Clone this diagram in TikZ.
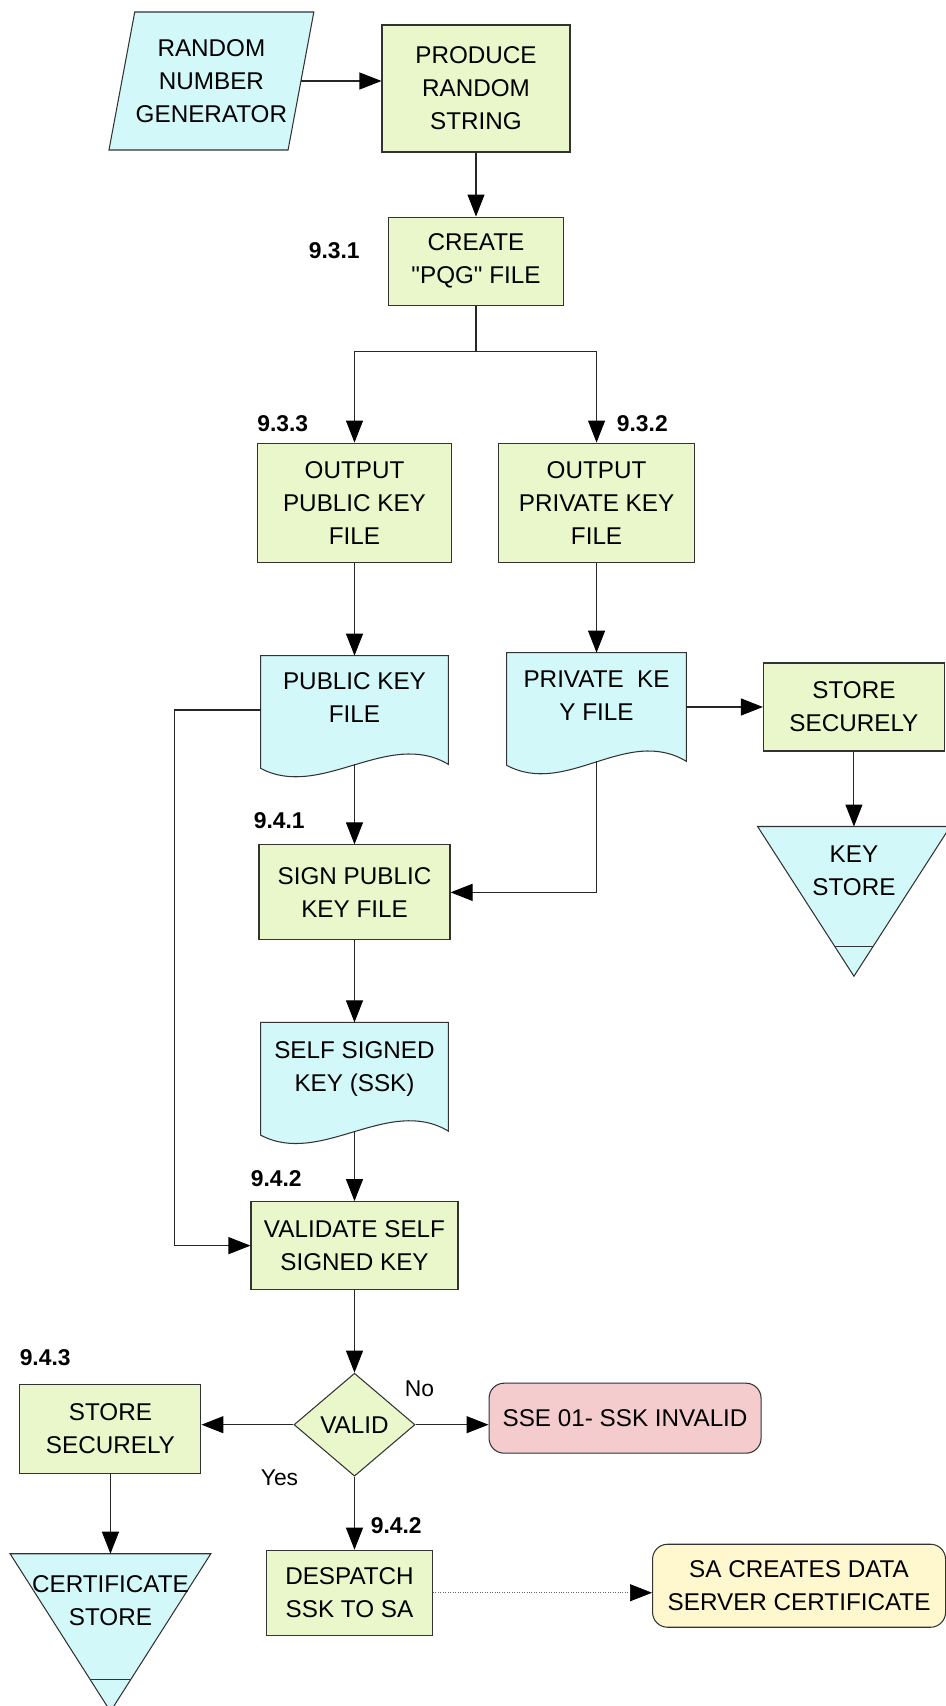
\documentclass[tikz,border=0pt]{standalone}
\usepackage{fontspec}
\setmainfont{Liberation Sans}[Ligatures=TeXOff]
\usepackage{tikz}
\usetikzlibrary{positioning,shapes,arrows.meta,calc,backgrounds}

\definecolor{PROC_GREEN}{HTML}{EAF7CB}
\definecolor{DATA_CYAN}{HTML}{D3F8F9}
\definecolor{ERR_PINK}{HTML}{F4CCCE}
\definecolor{END_YELLOW}{HTML}{FFF8CE}
\definecolor{EDGE_GREY}{HTML}{333333}

\tikzstyle{box} = [rectangle, draw=EDGE_GREY, line width=0.6pt, align=center, inner sep=0pt, font=\fontsize{13.8}{18.8}\selectfont]
\tikzstyle{proc_box} = [box, fill=PROC_GREEN]
\tikzstyle{term_box} = [box, rounded corners=0.3cm]
\tikzstyle{data_box} = [rectangle, inner sep=0pt, minimum width=3.74cm, minimum height=2.16cm]
\tikzstyle{store_tri} = [rectangle, inner sep=0pt]
\tikzstyle{rng_par} = [box, trapezium, trapezium left angle=73, trapezium right angle=107, trapezium stretches, fill=DATA_CYAN, minimum width=4.1cm, minimum height=2.76cm]
\tikzstyle{valid_dia} = [box, diamond, fill=PROC_GREEN, minimum width=2.42cm, minimum height=2.06cm]
\tikzstyle{link} = [draw=black!85, line width=0.6pt]
\tikzstyle{flow} = [link, -{Triangle[length=0.44cm,width=0.34cm,color=black]}]
\tikzstyle{num_tag} = [inner sep=0pt, font=\bfseries\fontsize{13}{15}\selectfont]
\tikzstyle{yes_no} = [inner sep=0pt, font=\fontsize{13}{15}\selectfont]

% outlines for the file and store symbols (drawn behind the text)
\newcommand{\docoutline}[1]{%
  \filldraw[fill=DATA_CYAN, draw=EDGE_GREY, line width=0.6pt]
    (#1.north west) -- (#1.north east) -- (#1.south east)
    .. controls +(-1.2,0.72) and +(1.2,-0.64) .. ([yshift=-0.08cm]#1.south west) -- cycle;}
\newcommand{\storeoutline}[1]{%
  \filldraw[fill=DATA_CYAN, draw=EDGE_GREY, line width=0.6pt]
    (#1.north west) -- (#1.north east) -- (#1.south) -- cycle;
  \draw[draw=EDGE_GREY, line width=0.6pt]
    ($(#1.north west)!0.8!(#1.south)$) -- ($(#1.north east)!0.8!(#1.south)$);}

\begin{document}
\begin{tikzpicture}[every label/.style={align=center, inner sep=0pt, font=\fontsize{13.8}{18.8}\selectfont}]
      \useasboundingbox (0,0) rectangle (18.9,-34.12);

      %%%%%%%%%%%%%%%%%%%%%%%%%%%%%%%%%%%%%%%%%%%%%%%%%
      % KEY GENERATION
      %%%%%%%%%%%%%%%%%%%%%%%%%%%%%%%%%%%%%%%%%%%%%%%%%
      \node[proc_box, minimum width=3.76cm, minimum height=2.54cm] (PRS) at (9.52,-1.77) {PRODUCE\\RANDOM\\STRING};
      \node[rng_par, left=1.6cm of PRS, yshift=0.15cm] (RNG) {RANDOM\\NUMBER\\GENERATOR};
      \node[proc_box, minimum width=3.5cm, minimum height=1.76cm, below=1.28cm of PRS] (CRE) {CREATE\\"PQG" FILE};
      \node[num_tag, left=0.56cm of CRE, yshift=0.2cm] (n931) {9.3.1};

      \coordinate[below=0.92cm of CRE] (split);
      \node[proc_box, minimum width=3.88cm, minimum height=2.38cm, below=1.82cm of split, xshift=-2.43cm] (OPU) {OUTPUT\\PUBLIC KEY\\FILE};
      \node[proc_box, minimum width=3.92cm, minimum height=2.38cm, right=0.92cm of OPU] (OPR) {OUTPUT\\PRIVATE KEY\\FILE};
      \node[num_tag, above right=0.2cm and 0cm of OPU.north west] (n933) {9.3.3};
      \node[num_tag, above right=0.2cm and 0.4cm of OPR.north] (n932) {9.3.2};

      % key files
      \node[data_box, below=1.86cm of OPU, label={[yshift=0.24cm]center:PUBLIC KEY\\FILE}] (PUB) {};
      \node[data_box, minimum width=3.58cm, below=1.8cm of OPR, label={[yshift=0.22cm]center:PRIVATE\ \ KE\\Y FILE}] (PRV) {};
      \node[proc_box, minimum width=3.62cm, minimum height=1.76cm, right=1.53cm of PRV] (SS1) {STORE\\SECURELY};
      \node[store_tri, minimum width=3.84cm, minimum height=2.98cm, below=1.5cm of SS1, label={[yshift=0.61cm]center:KEY\\STORE}] (KST) {};

      %%%%%%%%%%%%%%%%%%%%%%%%%%%%%%%%%%%%%%%%%%%%%%%%%
      % SIGNING AND VALIDATION
      %%%%%%%%%%%%%%%%%%%%%%%%%%%%%%%%%%%%%%%%%%%%%%%%%
      \node[proc_box, minimum width=3.82cm, minimum height=1.9cm, below=1.6cm of PUB] (SGN) {SIGN PUBLIC\\KEY FILE};
      \node[num_tag, above right=0.3cm and -0.1cm of SGN.north west] (n941) {9.4.1};
      \node[data_box, below=1.64cm of SGN, label={[yshift=0.15cm]center:SELF SIGNED\\KEY (SSK)}] (SSK) {};
      \node[proc_box, minimum width=4.14cm, minimum height=1.76cm, below=1.4cm of SSK] (VAL) {VALIDATE SELF\\SIGNED KEY};
      \node[num_tag, above right=0.28cm and 0cm of VAL.north west] (n942a) {9.4.2};

      \node[valid_dia, below=1.65cm of VAL] (DIA) {VALID};
      \node[yes_no, above right=0.56cm and -0.22cm of DIA.east] (no) {No};
      \node[yes_no, below left=0.9cm and -0.1cm of DIA.west] (yes) {Yes};

      % yes branch
      \node[proc_box, minimum width=3.62cm, minimum height=1.78cm, left=1.84cm of DIA, yshift=-0.08cm] (SS2) {STORE\\SECURELY};
      \node[num_tag, above right=0.36cm and 0cm of SS2.north west] (n943) {9.4.3};
      \node[store_tri, minimum width=4cm, minimum height=3.14cm, below=1.6cm of SS2, label={[yshift=0.64cm]center:CERTIFICATE\\STORE}] (CST) {};
      \node[proc_box, minimum width=3.32cm, minimum height=1.7cm, below=1.46cm of DIA, xshift=-0.1cm] (DSP) {DESPATCH\\SSK TO SA};
      \node[num_tag, above right=0.32cm and 0.42cm of DSP.north] (n942b) {9.4.2};
      \node[term_box, fill=END_YELLOW, minimum width=5.86cm, minimum height=1.66cm, right=4.38cm of DSP, yshift=0.14cm] (SAC) {SA CREATES DATA\\SERVER CERTIFICATE};

      % no branch
      \node[term_box, fill=ERR_PINK, minimum width=5.44cm, minimum height=1.4cm, right=1.46cm of DIA, yshift=0.13cm] (SSE) {SSE 01- SSK INVALID};

      \begin{scope}[on background layer]
        \docoutline{PUB}
        \docoutline{PRV}
        \docoutline{SSK}
        \storeoutline{KST}
        \storeoutline{CST}
      \end{scope}

      %%%%%%%%%%%%%%%%%%%%%%%%%%%%%%%%%%%%%%%%%%%%%%%%%
      % CONNECTORS
      %%%%%%%%%%%%%%%%%%%%%%%%%%%%%%%%%%%%%%%%%%%%%%%%%
      \draw[flow] (RNG.east) -- (RNG.east -| PRS.west);
      \draw[flow] (PRS) -- (CRE);
      \draw[link] (CRE) -- (split);
      \draw[flow] (split) -| (OPU);
      \draw[flow] (split) -| (OPR);
      \draw[flow] (OPU) -- (PUB);
      \draw[flow] (OPR) -- (PRV);
      \draw[flow] (PRV) -- (SS1);
      \draw[flow] (SS1) -- (KST);
      \draw[flow] (PUB) -- (SGN);
      \draw[flow] (PRV) |- (SGN);
      \coordinate[left=1.72cm of PUB.west] (bypass);
      \draw[flow] (PUB.west) -- (bypass) |- (VAL);
      \draw[flow] (SGN) -- (SSK);
      \draw[flow] (SSK) -- (VAL);
      \draw[flow] (VAL) -- (DIA);
      \draw[flow] (DIA.west) -- (DIA.west -| SS2.east);
      \draw[flow] (DIA.east) -- (DIA.east -| SSE.west);
      \draw[flow] (DIA.south) -- (DIA.south |- DSP.north);
      \draw[flow] (SS2) -- (CST);
      \draw[flow, draw=black!60, line width=0.4pt, densely dotted] (DSP.east) -- (DSP.east -| SAC.west);
\end{tikzpicture}
\end{document}
